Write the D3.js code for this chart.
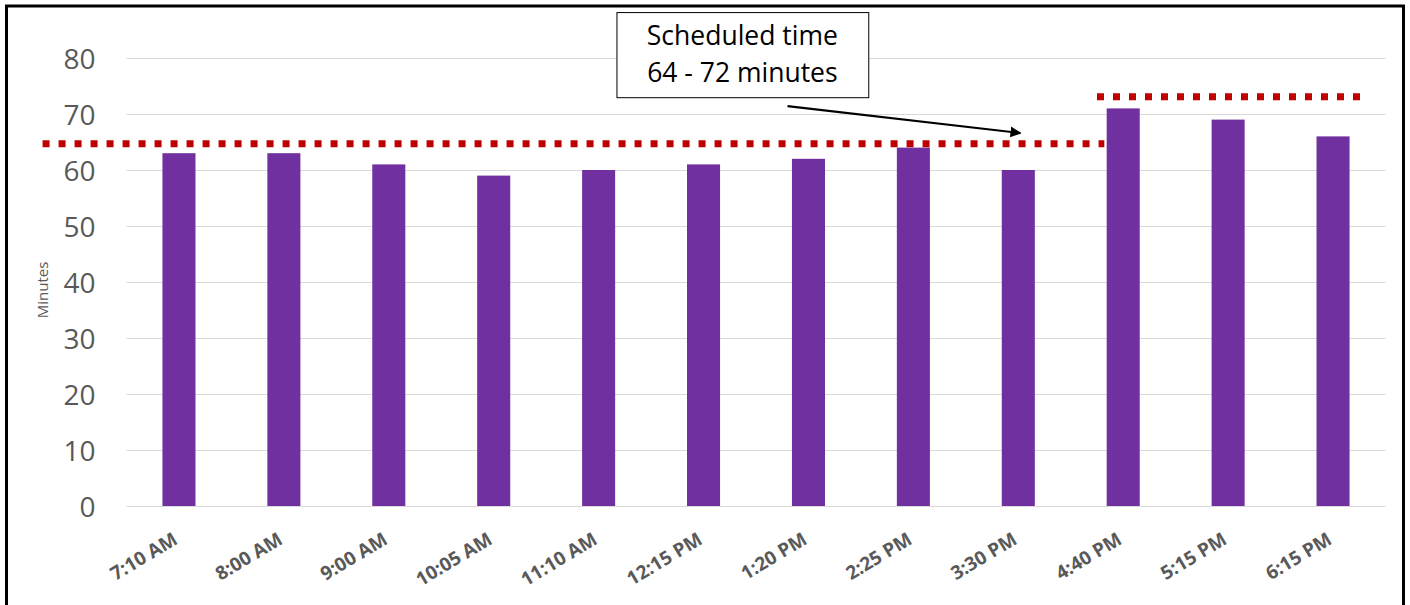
<!DOCTYPE html>
<html>
<head>
<meta charset="utf-8">
<script src="https://cdn.jsdelivr.net/npm/d3@7"></script>
<style>
  html, body { margin: 0; padding: 0; background: #fff; }
  svg { display: block; }
</style>
</head>
<body>
<svg id="chart" width="1410" height="605"></svg>
<script>
const categories = ["7:10 AM","8:00 AM","9:00 AM","10:05 AM","11:10 AM","12:15 PM","1:20 PM","2:25 PM","3:30 PM","4:40 PM","5:15 PM","6:15 PM"];
const values = [63, 63, 61, 59, 60, 61, 62, 64, 60, 71, 69, 66];
const yTicks = [0, 10, 20, 30, 40, 50, 60, 70, 80];
// scheduled-time reference lines (value, start/end in category-index units)
const schedValues = [64.7, 73.1];
const schedFrom = [-1.3, 8.75];
const schedTo = [8.82, 11.29];
const annotationLines = ["Scheduled time", "64 - 72 minutes"];

const W = 1410, H = 605;
const margin = { left: 126.5, right: 1385.5, top: 58, bottom: 506 };
const svg = d3.select("#chart");

const x = d3.scaleBand().domain(categories).range([margin.left, margin.right])
  .paddingInner(0.685).paddingOuter(0.3425);
const xi = d3.scaleLinear().domain([-0.5, categories.length - 0.5]).range([margin.left, margin.right]);
const y = d3.scaleLinear().domain([0, 80]).range([margin.bottom, margin.top]);

// frame
svg.append("rect").attr("x", 6.5).attr("y", 6).attr("width", 1397).attr("height", 640)
  .attr("fill", "none").attr("stroke", "#000").attr("stroke-width", 3);

// gridlines
svg.append("g").selectAll("line").data(yTicks).join("line")
  .attr("x1", margin.left).attr("x2", margin.right)
  .attr("y1", d => y(d) + 0.5).attr("y2", d => y(d) + 0.5)
  .attr("stroke", "#d9d9d9").attr("stroke-width", 1);

// y axis labels
const yAxis = d3.axisLeft(y).tickValues(yTicks).tickSize(0).tickPadding(31);
const gy = svg.append("g").attr("transform", `translate(${margin.left},0)`).call(yAxis);
gy.select(".domain").remove();
gy.selectAll("text").attr("font-family", "Open Sans, sans-serif").attr("font-size", 28)
  .attr("fill", "#595959").attr("dy", "0.36em");

// y title
svg.append("text").attr("transform", `translate(48,290) rotate(-90)`)
  .attr("text-anchor", "middle").attr("font-family", "Open Sans, sans-serif")
  .attr("font-size", 15).attr("fill", "#595959").text("Minutes");

// bars
svg.append("g").selectAll("rect").data(values).join("rect")
  .attr("x", (d, i) => x(categories[i]))
  .attr("width", x.bandwidth())
  .attr("y", d => y(d))
  .attr("height", d => y(0) - y(d))
  .attr("fill", "#7030A0");

// x axis labels
const xAxis = d3.axisBottom(x).tickSize(0).tickPadding(0);
const gx = svg.append("g").attr("transform", `translate(0,${margin.bottom})`).call(xAxis);
gx.select(".domain").remove();
gx.selectAll("text")
  .attr("font-family", "Open Sans, sans-serif").attr("font-size", 19).attr("font-weight", "bold")
  .attr("fill", "#595959").attr("text-anchor", "end")
  .attr("dy", null).attr("y", 0)
  .attr("transform", "translate(0,37) rotate(-31)");

// scheduled dotted lines
svg.append("g").selectAll("line").data(schedValues).join("line")
  .attr("x1", (d, i) => xi(schedFrom[i])).attr("x2", (d, i) => xi(schedTo[i]))
  .attr("y1", d => y(d)).attr("y2", d => y(d))
  .attr("stroke", "#C00000").attr("stroke-width", 7).attr("stroke-dasharray", "7 9");

// annotation box
const boxX0 = xi(4.17), boxX1 = xi(6.57), boxY0 = y(88.2), boxY1 = y(73.0);
svg.append("rect").attr("x", boxX0 + 0.5).attr("y", boxY0 + 0.5)
  .attr("width", boxX1 - boxX0).attr("height", boxY1 - boxY0)
  .attr("fill", "#fff").attr("stroke", "#000").attr("stroke-width", 1);
svg.append("g").selectAll("text").data(annotationLines).join("text")
  .attr("x", (boxX0 + boxX1) / 2).attr("y", (d, i) => boxY0 + 33 + i * 37)
  .attr("text-anchor", "middle").attr("font-family", "Open Sans, sans-serif")
  .attr("font-size", 26.5).attr("fill", "#000").text(d => d);

// arrow
svg.append("defs").append("marker").attr("id", "arr").attr("viewBox", "0 0 10 10")
  .attr("refX", 9).attr("refY", 5).attr("markerWidth", 5).attr("markerHeight", 5)
  .attr("orient", "auto").attr("markerUnits", "strokeWidth")
  .append("path").attr("d", "M0,0 L10,5 L0,10 Z").attr("fill", "#000");
svg.append("line").attr("x1", xi(5.8)).attr("y1", y(71.4)).attr("x2", xi(8.02)).attr("y2", y(66.6))
  .attr("stroke", "#000").attr("stroke-width", 2.2).attr("marker-end", "url(#arr)");
</script>
</body>
</html>
